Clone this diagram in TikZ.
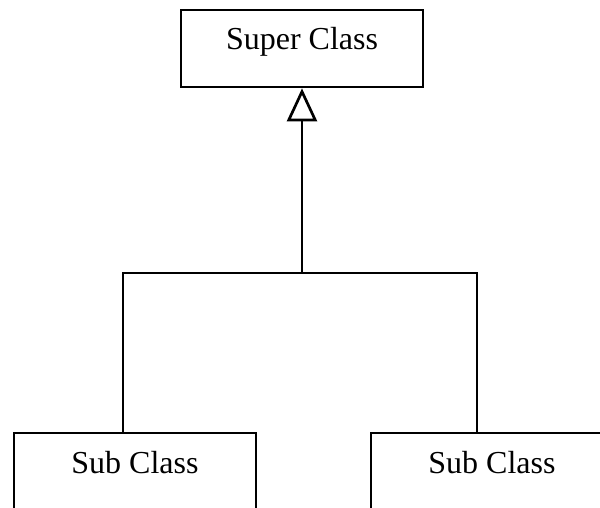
\documentclass[tikz,border=0pt]{standalone}
\usepackage{fontspec}
\setmainfont{Liberation Serif}
\usetikzlibrary{arrows.meta}
\begin{document}
\begin{tikzpicture}[x=1pt,y=-1pt,
  classbox/.style={draw, line width=2.7pt, inner sep=0pt,
    minimum width=242pt, minimum height=77pt,
    text height=40pt, text depth=37pt,
    font=\fontsize{32}{38}\selectfont},
  link/.style={line width=2.7pt},
  inherit/.style={link, -{Triangle[open, length=33pt, width=30pt, line width=2.7pt]}}]
  \useasboundingbox (0,0) rectangle (600,508);
  % class boxes
  \node[classbox] (super) at (302,48.5) {Super Class};
  \node[classbox] (lsub)  at (135,471.5) {Sub Class};
  \node[classbox] (rsub)  at (492,471.5) {Sub Class};
  % generalisation tree
  \coordinate (j)  at (302,273);
  \coordinate (jl) at (123,273);
  \coordinate (jr) at (477,273);
  \draw[link] (jl |- lsub.north) -- (jl) -- (jr) -- (jr |- rsub.north);
  \draw[inherit] (j) -- (super.south);
\end{tikzpicture}
\end{document}
